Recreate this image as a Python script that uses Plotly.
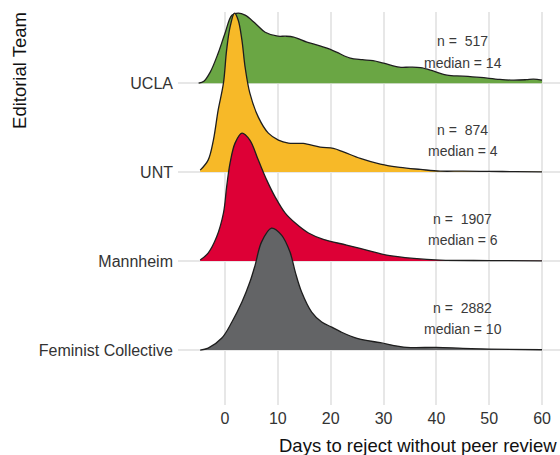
import plotly.graph_objects as go

# ---- data ----
teams = ["Feminist Collective", "Mannheim", "UNT", "UCLA"]  # bottom -> top
n_vals = [2882, 1907, 874, 517]
medians = [10, 6, 4, 14]
colors = ["#636466", "#DD0036", "#F7B928", "#6AA644"]

days_ucla = [-5, -4, -2.8, -1.3, 0, 1.3, 2.5, 3.8, 5.7, 7.6, 10, 11.5, 13, 15.5, 17.5, 19.3, 21.1,
             23.7, 26, 28, 30, 33, 35, 37, 39.5, 42, 45, 48.3, 52, 54.6, 57, 58.4, 60]
dens_ucla = [0, .022, .124, .337, .562, .764, .787, .764, .674, .573, .528, .528, .517, .461, .427,
             .393, .348, .281, .264, .253, .225, .180, .180, .174, .135, .090, .079, .064, .042,
             .034, .039, .045, .034]

days_unt = [-4.7, -3.2, -2.2, -1.3, -0.3, 0.3, 0.95, 1.8, 2.5, 3.2, 3.8, 4.7, 6.3, 8.2, 10.1, 12,
            14.8, 18, 20.5, 22.4, 25.6, 29.4, 33.1, 37, 40.7, 45, 50, 55, 60]
dens_unt = [.022, .135, .360, .697, 1.0, 1.371, 1.629, 1.787, 1.708, 1.483, 1.180, .888, .618,
            .438, .360, .326, .322, .281, .266, .228, .154, .090, .053, .030, .011, .011, .008,
            .006, .003]

days_mann = [-4.7, -3.2, -1.6, -0.3, 0.3, 0.95, 1.9, 3.2, 4.7, 6.3, 7.9, 9.5, 11.4, 13.3, 15.8,
             18.6, 23, 26.8, 30.6, 35.7, 40.7, 50, 60]
dens_mann = [.011, .090, .270, .539, .831, 1.101, 1.326, 1.438, 1.360, 1.135, .910, .719, .539,
             .427, .315, .244, .180, .124, .067, .030, .011, .006, .003]

days_fem = [-4.7, -3.2, -0.6, 1.3, 3.2, 4.7, 5.7, 6.9, 8.8, 10.7, 12.3, 13.3, 14.5, 16.4, 18.3,
            20.2, 22, 25, 29.4, 34.4, 40, 45, 50, 60]
dens_fem = [0, .022, .135, .315, .539, .764, .955, 1.213, 1.371, 1.292, 1.101, .876, .652, .427,
            .315, .258, .202, .131, .082, .030, .030, .019, .011, .003]

x_ticks = [0, 10, 20, 30, 40, 50, 60]

series = [
    (days_fem, dens_fem),
    (days_mann, dens_mann),
    (days_unt, dens_unt),
    (days_ucla, dens_ucla),
]

FONT = "Liberation Sans, Arial, Helvetica, sans-serif"

fig = go.Figure()
# draw from top ridge (back) to bottom ridge (front)
for i in [3, 2, 1, 0]:
    xs, hs = series[i]
    fig.add_trace(go.Scatter(x=xs, y=[i] * len(xs), mode="lines",
                             line=dict(width=0, color="rgba(0,0,0,0)"),
                             hoverinfo="skip", showlegend=False))
    fig.add_trace(go.Scatter(x=xs, y=[i + h for h in hs], mode="lines",
                             line=dict(color="#1e1e1e", width=1.3, shape="spline", smoothing=1),
                             fill="tonexty", fillcolor=colors[i],
                             name=teams[i], showlegend=False))

for i in range(4):
    fig.add_annotation(x=45, y=i + 0.475, text=f"n =  {n_vals[i]}", showarrow=False,
                       xanchor="center", yanchor="middle",
                       font=dict(family=FONT, size=14, color="#3a3a3a"))
    fig.add_annotation(x=45, y=i + 0.232, text=f"median = {medians[i]}", showarrow=False,
                       xanchor="center", yanchor="middle",
                       font=dict(family=FONT, size=14, color="#3a3a3a"))

fig.add_annotation(xref="paper", yref="paper", x=0.627, y=-0.102,
                   text="Days to reject without peer review", showarrow=False,
                   xanchor="center", yanchor="middle",
                   font=dict(family=FONT, size=18.5, color="#111111"))
fig.add_annotation(xref="paper", yref="paper", x=-0.4136, y=0.85,
                   text="Editorial Team", showarrow=False, textangle=-90,
                   xanchor="center", yanchor="middle",
                   font=dict(family=FONT, size=18.5, color="#111111"))

fig.update_layout(
    width=560, height=455,
    margin=dict(l=178, r=0, t=12, b=50),
    paper_bgcolor="white", plot_bgcolor="white",
    font=dict(family=FONT),
    xaxis=dict(range=[-8.9, 63.4], tickvals=x_ticks, ticktext=[str(v) for v in x_ticks],
               showgrid=True, gridcolor="#e7e7e7", gridwidth=1.5, zeroline=False,
               showline=False, ticks="", ticklabelstandoff=2,
               tickfont=dict(family=FONT, size=16, color="#333333")),
    yaxis=dict(range=[-0.618, 3.80], tickvals=[0, 1, 2, 3], ticktext=teams,
               showgrid=True, gridcolor="#e7e7e7", gridwidth=1.5, zeroline=False,
               showline=False, ticks="", ticklabelstandoff=4,
               tickfont=dict(family=FONT, size=16, color="#333333")),
)

fig.write_html("out.html")
